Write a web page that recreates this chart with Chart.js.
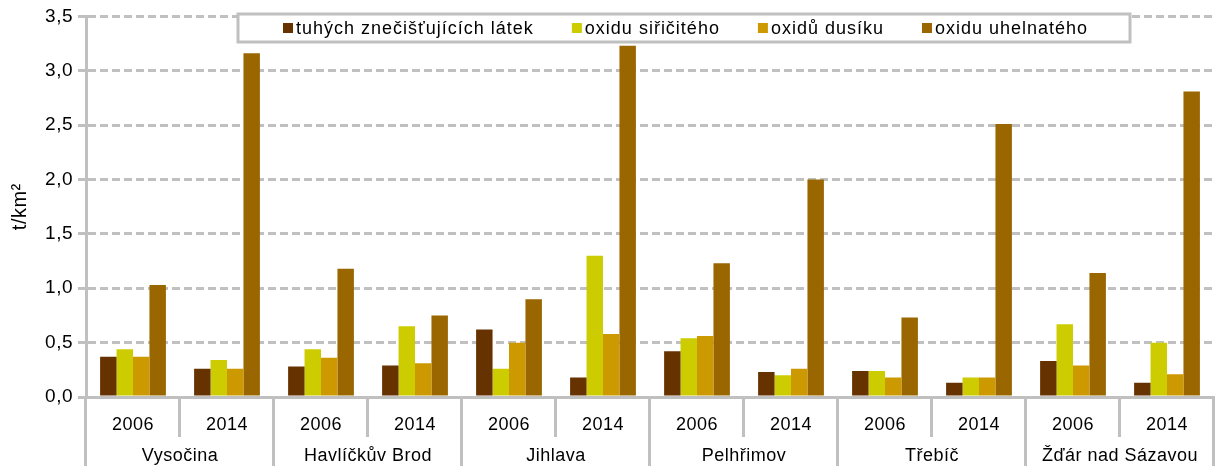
<!DOCTYPE html>
<html>
<head>
<meta charset="utf-8">
<script src="https://cdn.jsdelivr.net/npm/chart.js@4"></script>
<style>
  html, body { margin: 0; padding: 0; background: #fff; }
  #wrap { width: 1216px; height: 466px; position: relative; }
</style>
</head>
<body>
<div id="wrap"><canvas id="myChart"></canvas></div>
<script>
// emise na km2 podle okresu, roky 2006 a 2014
var regions = ['Vysočina', 'Havlíčkův Brod', 'Jihlava', 'Pelhřimov', 'Třebíč', 'Žďár nad Sázavou'];
var years = ['2006', '2014'];
var yTicks = [0, 0.5, 1, 1.5, 2, 2.5, 3, 3.5];

var tuhe = [0.37, 0.26, 0.28, 0.29, 0.62, 0.18, 0.42, 0.23, 0.24, 0.13, 0.33, 0.13];
var so2  = [0.44, 0.34, 0.44, 0.65, 0.26, 1.30, 0.54, 0.20, 0.24, 0.18, 0.67, 0.50];
var nox  = [0.37, 0.26, 0.36, 0.31, 0.50, 0.58, 0.56, 0.26, 0.18, 0.18, 0.29, 0.21];
var co   = [1.03, 3.16, 1.18, 0.75, 0.90, 3.23, 1.23, 2.00, 0.73, 2.51, 1.14, 2.81];

var FONT = '"Liberation Sans", Arial, sans-serif';
var GRID = '#c0c0c0';

// one label per bar group: region x year
var labels = [];
regions.forEach(function (r) { years.forEach(function (y) { labels.push(y); }); });

// slightly wider text everywhere
var spacing = {
  id: 'spacing',
  beforeDraw: function (chart) { chart.ctx.letterSpacing = '0.5px'; }
};

// region names + separators under the year row
var groupAxis = {
  id: 'groupAxis',
  afterDraw: function (chart) {
    var ctx = chart.ctx;
    var area = chart.chartArea;
    var n = labels.length;
    var w = (area.right - area.left) / n;
    ctx.save();
    ctx.strokeStyle = GRID;
    ctx.lineWidth = 3;
    for (var i = 0; i <= n; i++) {
      var x = Math.round(area.left + i * w) - 0.5;
      var long = (i % years.length === 0);
      ctx.beginPath();
      ctx.moveTo(x, area.bottom);
      ctx.lineTo(x, long ? chart.height : area.bottom + 40);
      ctx.stroke();
    }
    ctx.fillStyle = '#000';
    ctx.font = '18px ' + FONT;
    ctx.textAlign = 'center';
    ctx.textBaseline = 'middle';
    regions.forEach(function (r, k) {
      var cx = area.left + (k * years.length + years.length / 2) * w;
      ctx.fillText(r, cx, area.bottom + 59);
    });
    ctx.restore();
  }
};

// boxed legend drawn on top of the plot
var boxLegend = {
  id: 'boxLegend',
  afterDraw: function (chart) {
    var ctx = chart.ctx;
    var bx = 238, by = 14, bw = 892, bh = 28;
    ctx.save();
    ctx.fillStyle = '#fff';
    ctx.fillRect(bx, by, bw, bh);
    ctx.strokeStyle = GRID;
    ctx.lineWidth = 3;
    ctx.strokeRect(bx, by, bw, bh);

    ctx.font = '18px ' + FONT;
    ctx.letterSpacing = '1px';
    var sets = chart.data.datasets;
    var gap = 38, sq = 10, sqGap = 3;
    var x = bx + 45;
    var cy = by + bh / 2;
    ctx.textBaseline = 'middle';
    ctx.textAlign = 'left';
    sets.forEach(function (d) {
      ctx.fillStyle = d.backgroundColor;
      ctx.fillRect(x, cy - sq / 2, sq, sq);
      ctx.fillStyle = '#000';
      ctx.fillText(d.label, x + sq + sqGap, cy + 1);
      x += sq + sqGap + ctx.measureText(d.label).width + gap;
    });
    ctx.restore();
  }
};

const ctx = document.getElementById('myChart');

var chart = new Chart(ctx, {
  type: 'bar',
  data: {
    labels: labels,
    datasets: [
      { label: 'tuhých znečišťujících látek', data: tuhe, backgroundColor: '#663300' },
      { label: 'oxidu siřičitého', data: so2, backgroundColor: '#cccc00' },
      { label: 'oxidů dusíku', data: nox, backgroundColor: '#cc9900' },
      { label: 'oxidu uhelnatého', data: co, backgroundColor: '#996600' }
    ]
  },
  options: {
    responsive: true,
    maintainAspectRatio: false,
    animation: false,
    layout: { padding: { top: 8, right: 2, left: 0, bottom: 0 } },
    datasets: {
      bar: { categoryPercentage: 0.7, barPercentage: 1.0 }
    },
    plugins: {
      legend: { display: false },
      tooltip: { enabled: false }
    },
    scales: {
      x: {
        grid: { display: false },
        border: { display: true, color: GRID, width: 3 },
        ticks: {
          color: '#000',
          font: { family: FONT, size: 18 },
          padding: 9,
          maxRotation: 0,
          autoSkip: false
        },
        afterFit: function (scale) { scale.height = 69; }
      },
      y: {
        min: 0,
        max: 3.5,
        afterBuildTicks: function (scale) {
          scale.ticks = yTicks.map(function (v) { return { value: v }; });
        },
        grid: {
          color: GRID,
          lineWidth: 3,
          tickLength: 8,
          tickColor: GRID
        },
        border: { display: true, color: GRID, width: 3, dash: [8, 4] },
        ticks: {
          color: '#000',
          font: { family: FONT, size: 19 },
          padding: 5,
          callback: function (v) { return v.toFixed(1).replace('.', ','); }
        },
        title: {
          display: true,
          text: 't/km²',
          color: '#000',
          font: { family: FONT, size: 20 },
          padding: { top: 8, bottom: 0 }
        },
        afterFit: function (scale) { scale.width = 86; }
      }
    }
  },
  plugins: [spacing, groupAxis, boxLegend]
});
</script>
</body>
</html>
